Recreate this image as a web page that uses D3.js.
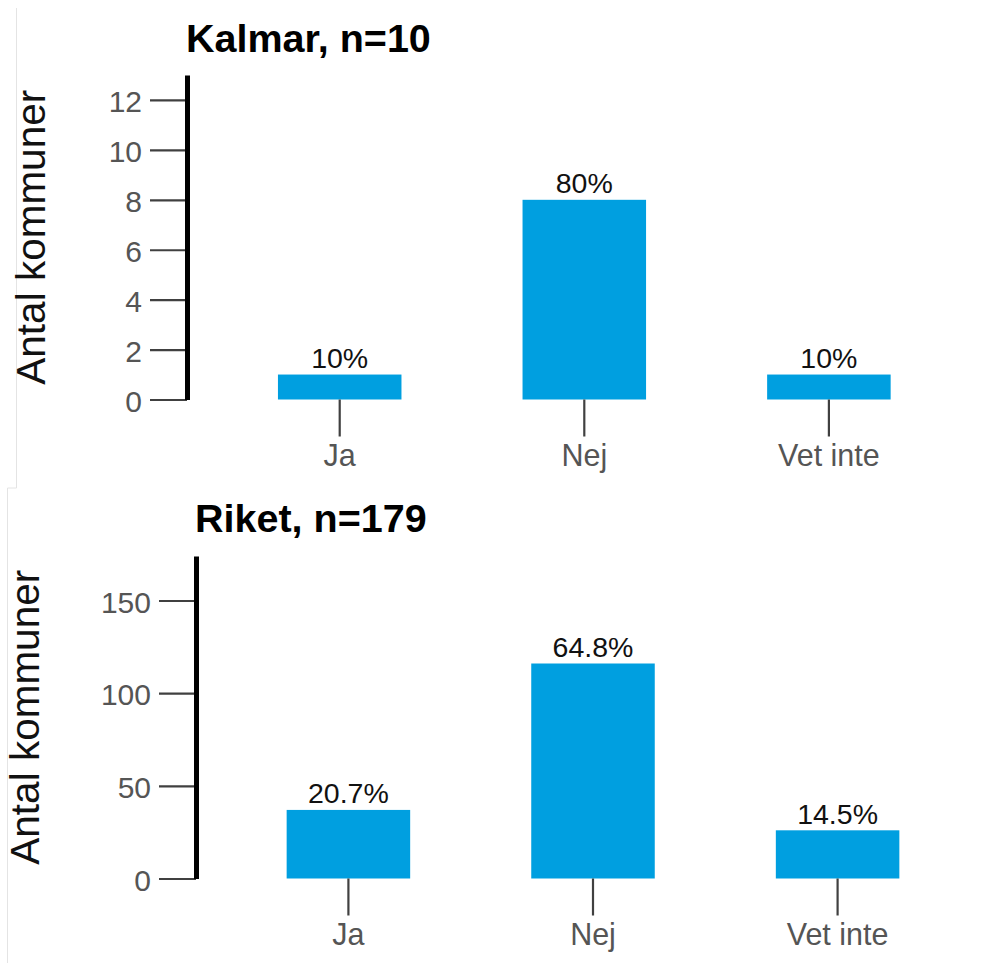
<!DOCTYPE html>
<html>
<head>
<meta charset="utf-8">
<script src="https://cdn.jsdelivr.net/npm/d3@7"></script>
<style>
  body { margin: 0; background: #fff; }
  svg { display: block; font-family: "Liberation Sans", Arial, sans-serif; }
</style>
</head>
<body>
<div id="chart"></div>
<script>
const categories = ['Ja', 'Nej', 'Vet inte'];

const kalmarTitle = 'Kalmar, n=10';
const kalmarCounts = [1, 8, 1];
const kalmarPercent = ['10%', '80%', '10%'];
const kalmarTicks = [0, 2, 4, 6, 8, 10, 12];
const kalmarMax = 13;

const riketTitle = 'Riket, n=179';
const riketCounts = [37, 116, 26];
const riketPercent = ['20.7%', '64.8%', '14.5%'];
const riketTicks = [0, 50, 100, 150];
const riketMax = 174;

const yTitle = 'Antal kommuner';
const barFill = '#009fe0';

const svg = d3.select('#chart').append('svg')
  .attr('width', 995)
  .attr('height', 963);

// faint edges left over from the two pasted panels
const edges = [[16.5, 8, 16.5, 488], [7.5, 488, 16.5, 488], [7.5, 488, 7.5, 963]];
svg.selectAll('line.edge').data(edges).enter()
  .append('line')
  .attr('class', 'edge')
  .attr('x1', d => d[0]).attr('y1', d => d[1])
  .attr('x2', d => d[2]).attr('y2', d => d[3])
  .attr('stroke', '#e4e4e4')
  .attr('stroke-width', 1);

const drawPanel = (
  parent,
  title,
  counts,
  percent,
  ticks,
  yMax,
  axisX,
  zeroY,
  topY,
  bandStart,
  titleY,
  yTitleX
) => {
  let g = parent.append('g');
  let scaleY = d3.scaleLinear().domain([0, yMax]).range([zeroY, topY]);
  let scaleX = d3.scaleBand()
    .domain(categories)
    .range([bandStart, bandStart + 735])
    .paddingInner(0.495)
    .paddingOuter(0.25);
  let data = categories.map((c, i) => ({ key: c, value: counts[i], label: percent[i] }));

  // bars
  g.selectAll('.bar').data(data).enter()
    .append('rect')
    .attr('class', 'bar')
    .attr('x', d => scaleX(d.key))
    .attr('y', d => scaleY(d.value))
    .attr('width', scaleX.bandwidth())
    .attr('height', d => scaleY(0) - scaleY(d.value))
    .attr('fill', barFill);

  g.selectAll('.label').data(data).enter()
    .append('text')
    .attr('class', 'label')
    .attr('x', d => scaleX(d.key) + scaleX.bandwidth() / 2)
    .attr('y', d => scaleY(d.value) - 6.5)
    .attr('text-anchor', 'middle')
    .attr('font-size', 28.5)
    .attr('fill', '#111')
    .text(d => d.label);

  // x axis: ticks only, no domain line
  let xAxis = g.append('g')
    .attr('transform', `translate(0,${zeroY})`)
    .call(d3.axisBottom(scaleX).tickSize(37).tickPadding(7.5).tickSizeOuter(0));
  xAxis.select('.domain').remove();
  xAxis.selectAll('.tick line').attr('stroke', '#404040').attr('stroke-width', 2.2);
  xAxis.selectAll('.tick text')
    .attr('font-size', 30.5)
    .attr('font-family', 'Liberation Sans, Arial, sans-serif')
    .attr('fill', '#555');

  let yAxis = g.append('g')
    .attr('transform', `translate(${axisX},0)`)
    .call(d3.axisLeft(scaleY).tickValues(ticks).tickSize(37).tickPadding(8).tickSizeOuter(0));
  yAxis.selectAll('.tick line').attr('stroke', '#404040').attr('stroke-width', 2.2);
  yAxis.selectAll('.tick text')
    .attr('font-size', 30)
    .attr('font-family', 'Liberation Sans, Arial, sans-serif')
    .attr('dy', '0.39em')
    .attr('fill', '#555');
  yAxis.select('.domain')
    .attr('stroke', '#000')
    .attr('stroke-width', 5)
    .raise();

  g.append('text')
    .attr('x', axisX - 1)
    .attr('y', titleY)
    .attr('font-size', 39.5)
    .attr('font-weight', 'bold')
    .attr('fill', '#000')
    .text(title);

  g.append('text')
    .attr('transform', `translate(${yTitleX},${(zeroY + topY) / 2}) rotate(-90)`)
    .attr('text-anchor', 'middle')
    .attr('font-size', 40.5)
    .attr('fill', '#111')
    .text(yTitle);
};

drawPanel(svg, kalmarTitle, kalmarCounts, kalmarPercent, kalmarTicks, kalmarMax,
  187, 399.5, 75, 216.8, 52, 45);
drawPanel(svg, riketTitle, riketCounts, riketPercent, riketTicks, riketMax,
  196, 878.5, 556, 225.5, 531.5, 39);
</script>
</body>
</html>
